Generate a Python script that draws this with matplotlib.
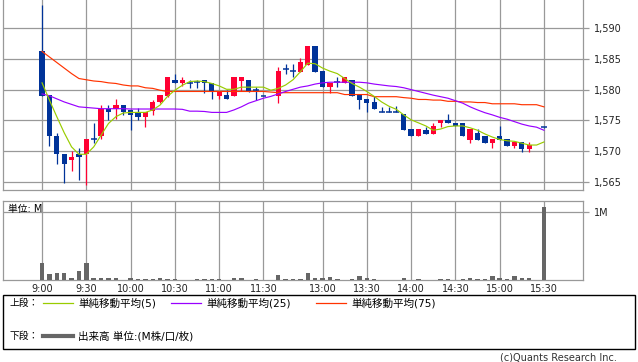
import matplotlib
matplotlib.use('Agg')
import matplotlib.pyplot as plt
from matplotlib.patches import Rectangle
from matplotlib.lines import Line2D
import numpy as np

plt.rcParams['font.family'] = ['DejaVu Sans', 'Noto Sans CJK JP']

nan = np.nan
# 5 minute bars, index 0 = 9:00 ... 68 = 15:30 (lunch break squeezed)
opens = [1586.2, 1579.1, 1572.5, 1569.5, 1568.5, 1569.6, 1569.5, 1572.0, 1572.4, 1576.9,
         1576.9, 1577.5, 1576.7, 1576.4, 1575.5, 1576.5, 1578.0, 1579.0, 1581.6, 1581.0,
         1581.0, 1581.2, 1581.6, 1581.1, 1579.0, 1579.1, 1579.0, 1581.4, 1581.6, 1580.0,
         1579.0, nan, 1579.0, 1583.3, 1583.0, 1582.9, 1584.0, 1587.1, 1583.0, 1580.5,
         1581.3, 1581.0, 1581.6, 1579.3, 1578.5, 1578.0, 1576.4, 1576.4, 1576.4, 1576.0,
         1573.6, 1572.4, 1573.4, 1572.8, 1574.5, 1575.1, 1574.6, 1574.6, 1571.8, 1573.0,
         1572.5, 1571.4, 1572.4, 1571.9, 1570.8, 1571.5, 1570.4, nan, 1574.0]
highs = [1593.7, 1579.1, 1573.0, 1569.5, 1570.0, 1570.6, 1572.0, 1574.5, 1577.5, 1577.5,
         1578.5, 1577.5, 1576.7, 1577.0, 1576.3, 1578.3, 1579.1, 1582.0, 1582.5, 1582.0,
         1581.6, 1581.6, 1581.6, 1581.1, 1579.7, 1580.0, 1582.0, 1582.0, 1581.6, 1580.5,
         1579.0, nan, 1583.6, 1584.1, 1584.1, 1585.1, 1587.1, 1587.1, 1583.0, 1581.0,
         1582.0, 1582.0, 1581.6, 1579.3, 1578.5, 1579.0, 1577.1, 1577.1, 1577.4, 1576.0,
         1573.6, 1573.6, 1574.0, 1574.6, 1575.1, 1576.0, 1574.6, 1574.6, 1573.6, 1573.6,
         1572.5, 1572.0, 1574.1, 1571.9, 1571.5, 1571.5, 1571.5, nan, 1574.0]
lows = [1579.0, 1570.9, 1567.9, 1564.9, 1566.8, 1565.3, 1564.5, 1571.4, 1572.0, 1575.0,
        1575.3, 1575.9, 1573.4, 1575.0, 1574.0, 1575.8, 1577.8, 1578.8, 1581.0, 1580.6,
        1580.3, 1580.3, 1579.5, 1578.4, 1578.4, 1578.4, 1579.0, 1579.8, 1579.6, 1578.3,
        1579.0, nan, 1577.9, 1582.5, 1582.0, 1582.9, 1584.0, 1582.9, 1580.5, 1579.5,
        1580.5, 1581.0, 1579.0, 1576.9, 1576.4, 1576.9, 1576.4, 1576.4, 1576.4, 1573.4,
        1572.4, 1572.4, 1572.8, 1572.8, 1574.0, 1574.5, 1574.1, 1572.4, 1571.4, 1571.8,
        1571.4, 1570.5, 1571.8, 1570.8, 1570.5, 1569.9, 1569.9, nan, 1573.8]
closes = [1579.0, 1572.4, 1569.5, 1568.0, 1569.1, 1569.0, 1572.0, 1572.0, 1576.9, 1576.4,
          1577.5, 1576.4, 1575.9, 1575.5, 1576.3, 1578.0, 1579.1, 1582.0, 1581.0, 1581.6,
          1581.0, 1581.2, 1581.1, 1579.7, 1579.7, 1578.4, 1582.0, 1582.0, 1579.6, 1580.0,
          1579.0, nan, 1583.0, 1583.3, 1583.0, 1584.5, 1587.1, 1582.9, 1580.5, 1581.0,
          1581.3, 1582.0, 1579.0, 1578.3, 1577.8, 1576.9, 1576.4, 1576.4, 1576.4, 1573.4,
          1572.4, 1573.6, 1572.8, 1574.1, 1575.1, 1574.5, 1574.1, 1572.4, 1573.6, 1571.8,
          1571.4, 1572.0, 1571.8, 1570.8, 1571.5, 1570.4, 1571.0, nan, 1574.0]

ma5 = [1581.1, 1578.3, 1575.6, 1573.0, 1570.7, 1569.5, 1569.5, 1570.7, 1572.6, 1574.5,
       1575.6, 1576.2, 1576.3, 1576.3, 1576.3, 1576.7, 1577.5, 1578.9, 1579.9, 1580.7,
       1581.3, 1581.4, 1581.3, 1581.0, 1580.6, 1580.05, 1580.05, 1580.4, 1580.4, 1580.4,
       1580.4, 1579.9, 1580.2, 1580.75, 1581.6, 1582.9, 1584.3, 1584.2, 1583.5, 1583.0,
       1582.6, 1581.8, 1581.0, 1580.4, 1579.7, 1578.9, 1578.0, 1577.3, 1576.8, 1575.9,
       1575.1, 1574.6, 1574.1, 1573.4, 1573.6, 1574.0, 1574.1, 1574.1, 1573.8, 1573.4,
       1572.8, 1572.3, 1571.9, 1571.7, 1571.6, 1571.3, 1571.0, 1571.0, 1571.5]
ma25 = [1579.3, 1579.0, 1578.5, 1578.0, 1577.6, 1577.2, 1577.1, 1577.0, 1576.9, 1576.9,
        1576.9, 1576.9, 1576.85, 1576.85, 1576.85, 1576.85, 1576.85, 1576.85, 1576.85, 1576.8,
        1576.5, 1576.5, 1576.45, 1576.3, 1576.3, 1576.3, 1576.7, 1577.2, 1577.8, 1578.2,
        1578.6, 1578.9, 1579.3, 1579.7, 1580.05, 1580.4, 1580.6, 1580.9, 1581.1, 1581.2,
        1581.2, 1581.2, 1581.2, 1581.2, 1581.1, 1580.9, 1580.75, 1580.6, 1580.5, 1580.3,
        1580.0, 1579.7, 1579.4, 1579.1, 1578.85, 1578.6, 1578.2, 1577.8, 1577.2, 1576.7,
        1576.25, 1575.9, 1575.5, 1575.2, 1574.8, 1574.4, 1574.1, 1573.9, 1573.4]
ma75 = [1586.2, 1585.3, 1584.4, 1583.5, 1582.6, 1581.8, 1581.6, 1581.4, 1581.3, 1581.1,
        1581.0, 1580.75, 1580.6, 1580.6, 1580.3, 1580.2, 1579.9, 1579.7, 1579.7, 1579.7,
        1579.7, 1579.7, 1579.7, 1579.7, 1579.7, 1579.7, 1579.7, 1579.7, 1579.7, 1579.7,
        1579.7, 1579.6, 1579.5, 1579.5, 1579.5, 1579.5, 1579.5, 1579.5, 1579.5, 1579.5,
        1579.5, 1579.2, 1579.2, 1579.2, 1579.2, 1578.85, 1578.85, 1578.85, 1578.85, 1578.7,
        1578.6, 1578.4, 1578.4, 1578.3, 1578.3, 1578.1, 1578.1, 1578.0, 1578.0, 1577.9,
        1577.9, 1577.7, 1577.7, 1577.7, 1577.7, 1577.55, 1577.55, 1577.55, 1577.2]

# volume in millions
volume = [0.25, 0.089, 0.10, 0.10, 0.03, 0.133, 0.25, 0.03, 0.03, 0.03,
          0.03, 0.007, 0.03, 0.015, 0.015, 0.015, 0.03, 0.015, 0.015, 0.007,
          0.007, 0.015, 0.015, 0.015, 0.015, 0.007, 0.03, 0.03, 0.007, 0.015,
          0.007, 0.0, 0.074, 0.015, 0.015, 0.015, 0.10, 0.03, 0.03, 0.044,
          0.015, 0.007, 0.015, 0.06, 0.03, 0.015, 0.007, 0.007, 0.007, 0.03,
          0.007, 0.015, 0.007, 0.007, 0.015, 0.015, 0.007, 0.015, 0.03, 0.015,
          0.015, 0.06, 0.03, 0.015, 0.06, 0.03, 0.03, 0.0, 1.08]

tick_idx = [0, 6, 12, 18, 24, 30, 38, 44, 50, 56, 62, 68]
tick_labels = ['9:00', '9:30', '10:00', '10:30', '11:00', '11:30',
               '13:00', '13:30', '14:00', '14:30', '15:00', '15:30']
price_ticks = [1565, 1570, 1575, 1580, 1585, 1590]

RED = '#ff0033'
BLUE = '#003399'
GRID = '#999999'
W, H = 638, 362

fig = plt.figure(figsize=(W / 100, H / 100), dpi=100)
ax = fig.add_axes([3 / W, 1 - 190 / H, 580 / W, 190 / H])
axv = fig.add_axes([3 / W, 1 - 280 / H, 580 / W, 79 / H])

x = np.arange(len(opens))
o = np.array(opens)
hi = np.array(highs)
lo = np.array(lows)
c = np.array(closes)
ok = ~np.isnan(o)
up = ok & (c > o)
dn = ok & (c < o)
flat = ok & (c == o)

xlim = (-5.29, 73.29)
for a in (ax, axv):
    a.set_xlim(*xlim)
    a.set_xticks(tick_idx)
    for s in a.spines.values():
        s.set_color(GRID)
        s.set_linewidth(0.9)
    a.grid(True, color=GRID, linewidth=0.9)
    a.set_axisbelow(True)
    a.yaxis.tick_right()
    a.tick_params(axis='y', length=4, color=GRID, width=0.9, labelsize=7, pad=4, labelcolor='#222222')
ax.spines['top'].set_visible(False)

# candles
cols = np.where(up, RED, BLUE)
ax.vlines(x[ok], lo[ok], hi[ok], colors=cols[ok], linewidth=0.9)
ax.bar(x[up], (c - o)[up], bottom=o[up], width=0.72, color=RED, linewidth=0, zorder=3)
ax.bar(x[dn], (o - c)[dn], bottom=c[dn], width=0.72, color=BLUE, linewidth=0, zorder=3)
ax.hlines(c[flat], x[flat] - 0.4, x[flat] + 0.4, colors=BLUE, linewidth=1.1, zorder=3)

ax.plot(x, ma75, color='#ff3300', linewidth=0.85, zorder=4)
ax.plot(x, ma25, color='#9900ff', linewidth=0.85, zorder=4)
ax.plot(x, ma5, color='#99cc00', linewidth=0.85, zorder=4)

ax.set_ylim(1563.7, 1594.55)
ax.set_yticks(price_ticks)
ax.set_yticklabels([f'{p:,}' for p in price_ticks])
ax.tick_params(axis='x', length=0, labelbottom=False)

# volume
axv.bar(x, volume, width=0.6, color='#666666', linewidth=0, zorder=3)
axv.set_ylim(0, 1.167)
axv.set_yticks([1.0])
axv.set_yticklabels(['1M'])
axv.tick_params(axis='x', length=0, labelsize=7, pad=3, labelcolor='#222222')
axv.set_xticklabels(tick_labels)
axv.text(0.008, 0.9, '単位: M', transform=axv.transAxes, fontsize=7, va='center', ha='left', zorder=5)

# legend box
fig.patches.append(Rectangle((3 / W, 1 - 349 / H), 632 / W, 54 / H, transform=fig.transFigure,
                             fill=False, edgecolor='black', linewidth=1))
y1 = 1 - 303 / H
y2 = 1 - 336 / H
fig.text(10 / W, y1, '上段：', fontsize=7, va='center')
fig.text(10 / W, y2, '下段：', fontsize=7, va='center')
for x0, col, lab in [(43, '#99cc00', '単純移動平均(5)'), (171, '#9900ff', '単純移動平均(25)'),
                     (316, '#ff3300', '単純移動平均(75)')]:
    fig.lines.append(Line2D([x0 / W, (x0 + 30) / W], [y1, y1], transform=fig.transFigure,
                            color=col, linewidth=0.9))
    fig.text((x0 + 35) / W, y1, lab, fontsize=7.6, va='center')
fig.lines.append(Line2D([43 / W, 73 / W], [y2, y2], transform=fig.transFigure,
                        color='#666666', linewidth=3))
fig.text(78 / W, y2, '出来高 単位:(M株/口/枚)', fontsize=7.6, va='center')
fig.text(617 / W, 1 - 357 / H, '(c)Quants Research Inc.', fontsize=7, ha='right', va='center',
         color='#333333')

fig.savefig('out.png', dpi=100)
